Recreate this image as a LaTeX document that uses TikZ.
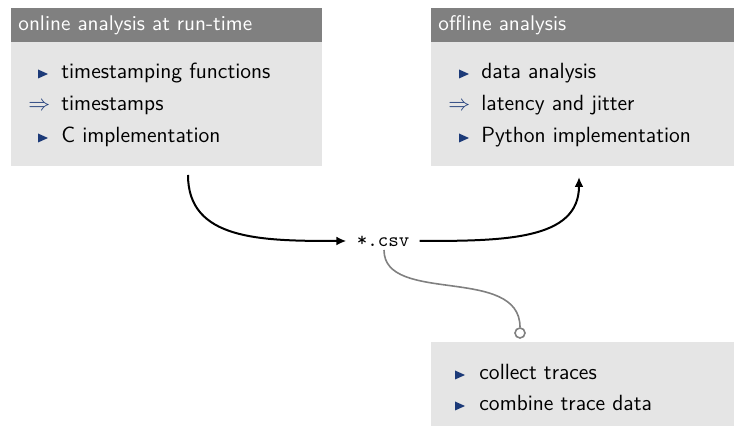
\documentclass[tikz,border=0pt]{standalone}
\usetikzlibrary{arrows.meta}
\definecolor{hdrgray}{RGB}{128,128,128}
\definecolor{bodygray}{RGB}{229,229,229}
\definecolor{structblue}{RGB}{28,58,120}
\definecolor{linkgray}{RGB}{128,128,128}
\newcommand{\bultri}[2]{\fill[structblue] (#1,#2-4.5) -- ++(10,4.5) -- ++(-10,4.5) -- cycle;}
\begin{document}
\begin{tikzpicture}[x=0.5pt,y=-0.5pt,
  txt/.style={font=\sffamily\fontsize{11}{13}\selectfont, inner sep=0pt, anchor=base west},
  hdrtxt/.style={font=\sffamily\fontsize{10.6}{13}\selectfont, inner sep=0pt, anchor=base west, text=white},
  imp/.style={txt, text=structblue},
  arr/.style={line width=1pt, -{Latex[length=5pt,width=4.5pt]}},
  link/.style={draw=linkgray, line width=0.8pt}]
\useasboundingbox (0,0) rectangle (734,426);
% left block
\fill[hdrgray] (11,8) rectangle (322,42);
\fill[bodygray] (11,42) rectangle (322,166);
\node[hdrtxt] (lh) at (18,31) {online analysis at run-time};
\bultri{38}{74}
\node[txt] (l1) at (61,79) {timestamping functions};
\node[imp] (l2a) at (28,111) {$\Rightarrow$};
\node[txt] (l2) at (61,111) {timestamps};
\bultri{38}{138}
\node[txt] (l3) at (61,143) {C implementation};
% right block
\fill[hdrgray] (431,8) rectangle (734,42);
\fill[bodygray] (431,42) rectangle (734,166);
\node[hdrtxt] (rh) at (438,31) {offline analysis};
\bultri{459}{74}
\node[txt] (r1) at (481,79) {data analysis};
\node[imp] (r2a) at (448,111) {$\Rightarrow$};
\node[txt] (r2) at (481,111) {latency and jitter};
\bultri{459}{138}
\node[txt] (r3) at (481,143) {Python implementation};
% bottom block
\fill[bodygray] (431,342) rectangle (734,426);
\bultri{455}{375}
\node[txt] (b1) at (479,380) {collect traces};
\bultri{455}{406}
\node[txt] (b2) at (479,411) {combine trace data};
% csv
\node[font=\ttfamily\fontsize{10}{12}\selectfont, inner xsep=5pt, inner ysep=0pt] (csv) at (383,241) {*.csv};
\coordinate (lstart) at (188,175);
\coordinate (rend) at (579,177);
\coordinate (csvlink) at (384,250);
\node[circle, draw=linkgray, fill=white, line width=0.8pt, minimum size=5pt, inner sep=0pt] (circ) at (520,333) {};
\draw[arr] (lstart) .. controls (188,240) and (260,241) .. (csv.west);
\draw[arr] (csv.east) .. controls (505,241) and (579,240) .. (rend);
\draw[link] (csvlink) .. controls (384,305) and (520,265) .. (circ.north);
\end{tikzpicture}
\end{document}
